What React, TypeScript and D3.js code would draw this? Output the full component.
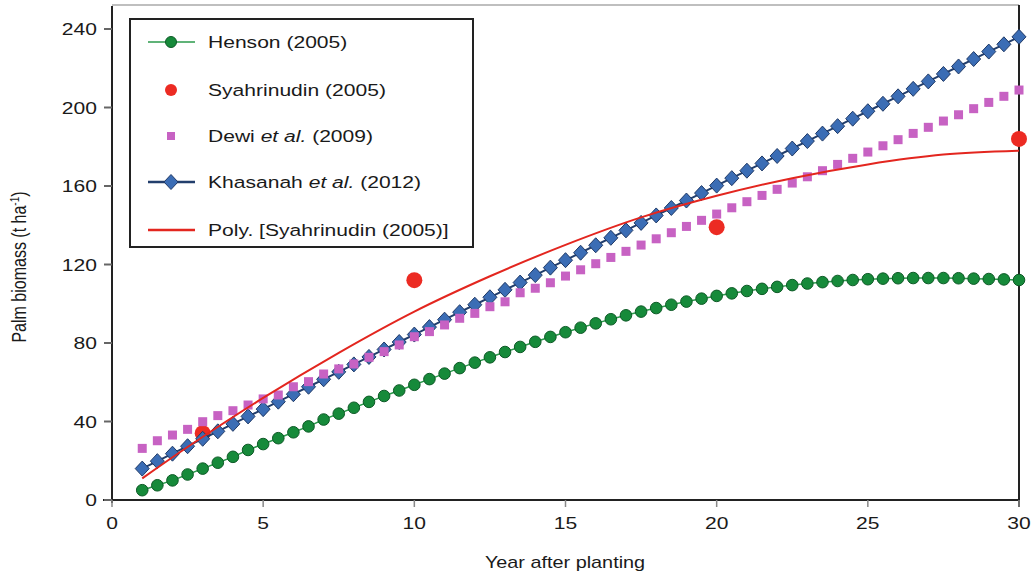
import React from 'react';
import * as d3 from 'd3';

// années (pas d'une demi-année)
const years = d3.range(1, 30.5, 0.5);

const henson = [
  5, 7.5, 10, 13, 16, 19, 22, 25.5, 28.5, 31.5,
  34.5, 37.5, 41, 44, 47, 50, 53, 55.8, 58.7, 61.6,
  64.4, 67.2, 70, 72.7, 75.4, 78, 80.6, 83.1, 85.5, 87.8,
  90, 92.1, 94.1, 96, 97.8, 99.5, 101.1, 102.6, 104, 105.3,
  106.5, 107.6, 108.6, 109.5, 110.3, 111, 111.6, 112.1, 112.5, 112.8,
  113, 113.1, 113.1, 113.1, 113, 112.8, 112.6, 112.4, 112.1,
];

const khasanah = [
  16, 19.8, 23.6, 27.4, 31.2, 35, 38.8, 42.6, 46.3, 50.1,
  53.9, 57.7, 61.5, 65.3, 69.1, 72.9, 76.7, 80.5, 84.3, 88.1,
  91.9, 95.7, 99.5, 103.3, 107.1, 110.8, 114.6, 118.4, 122.2, 126,
  129.8, 133.6, 137.4, 141.2, 145, 148.8, 152.6, 156.4, 160.2, 164,
  167.8, 171.5, 175.3, 179.1, 182.9, 186.7, 190.5, 194.3, 198.1, 201.9,
  205.7, 209.5, 213.3, 217.1, 220.9, 224.7, 228.5, 232.2, 236,
];

const dewi = [
  26.3, 30.2, 33.1, 36, 39.9, 43, 45.5, 48.4, 51.5, 53.5,
  57.7, 60.3, 64.2, 66.8, 69.3, 72.7, 75.6, 79, 83.2, 85.8,
  89.2, 92.6, 95.1, 98.5, 101, 105.6, 107.9, 110.7, 114.1, 117.3,
  120.4, 123.6, 126.7, 129.9, 133.1, 136.2, 139.4, 142.5, 145.7, 148.9,
  152, 155.2, 158.3, 161.5, 164.7, 167.8, 171, 174.1, 177.3, 180.5,
  183.6, 186.8, 189.9, 193.1, 196.3, 199.4, 202.6, 205.7, 208.9,
];

const syahYears = [3, 10, 20, 30];
const syahValues = [34, 112, 139, 184];

// courbe de tendance polynomiale
const polyYears = [1, 2.5, 5, 7.5, 10, 12.5, 15, 17.5, 20, 22.5, 25, 27.5, 30];
const polyValues = [11, 27, 52, 75, 96, 114, 130, 144, 155, 164, 171, 176, 178];

const yTicks = [0, 40, 80, 120, 160, 200, 240];
const xTicks = [0, 5, 10, 15, 20, 25, 30];

const FONT = 'Liberation Sans, Arial, Helvetica, sans-serif';
const SX = 1.24;

const STxt = ({ x, y, anchor = 'start', size = 17, children }: any) => (
  <text
    transform={`translate(${x},${y}) scale(${SX},1)`}
    textAnchor={anchor}
    fontSize={size}
    fill="#1a1a1a"
  >
    {children}
  </text>
);

const diamond = 'M0,-7.5L7,0L0,7.5L-7,0Z';

const App = () => {
  const width = 1034;
  const height = 578;

  const x = d3.scaleLinear().domain([0, 30]).range([112, 1019]);
  const y = d3.scaleLinear().domain([0, 240]).range([500, 29]);

  const lineOf = (xs: number[], vs: number[]) =>
    d3.line<number>().x((_, i) => x(xs[i])).y(d => y(d))(vs) || '';

  const polyPath =
    d3
      .line<number>()
      .x((_, i) => x(polyYears[i]))
      .y(d => y(d))
      .curve(d3.curveCatmullRom)(polyValues) || '';

  const legendItems = [
    { key: 'henson', cy: 42, label: <>Henson (2005)</> },
    { key: 'syah', cy: 90, label: <>Syahrinudin (2005)</> },
    { key: 'dewi', cy: 136, label: <>Dewi <tspan fontStyle="italic">et al.</tspan> (2009)</> },
    { key: 'khas', cy: 182, label: <>Khasanah <tspan fontStyle="italic">et al.</tspan> (2012)</> },
    { key: 'poly', cy: 230, label: <>Poly. [Syahrinudin (2005)]</> },
  ];

  return (
    <svg
      width={width}
      height={height}
      style={{ position: 'absolute', left: 0, top: 0, background: '#fff' }}
      fontFamily={FONT}
    >
      <rect width={width} height={height} fill="#fff" />

      {/* cadre */}
      <line x1={112} x2={1019} y1={5} y2={5} stroke="#aaa" strokeWidth={1.5} />
      <line x1={1019} x2={1019} y1={5} y2={507} stroke="#222" strokeWidth={2} />
      <line x1={112} x2={112} y1={6} y2={503} stroke="#222" strokeWidth={2} />
      <line x1={103} x2={1019} y1={500} y2={500} stroke="#222" strokeWidth={2} />

      {/* axe Y */}
      {yTicks.map(t => (
        <g key={'y' + t}>
          <line x1={104} x2={112} y1={y(t)} y2={y(t)} stroke="#666" strokeWidth={2} />
          <STxt x={97} y={y(t) + 6} anchor="end">{t}</STxt>
        </g>
      ))}

      {/* axe X */}
      {xTicks.map(t => (
        <g key={'x' + t}>
          <line x1={x(t)} x2={x(t)} y1={500} y2={507} stroke="#888" strokeWidth={1.5} />
          <STxt x={x(t)} y={529} anchor="middle">{t}</STxt>
        </g>
      ))}

      <STxt x={565} y={568} anchor="middle" size={16}>Year after planting</STxt>
      <text
        transform={`translate(26,267) rotate(-90) scale(1,${SX})`}
        textAnchor="middle"
        fontSize={16}
        fill="#1a1a1a"
      >
        Palm biomass (t ha<tspan fontSize={10} dy={-6}>-1</tspan><tspan dy={6}>)</tspan>
      </text>

      {/* Henson */}
      <path d={lineOf(years, henson)} fill="none" stroke="#2b9a4b" strokeWidth={1.5} />
      {henson.map((v, i) => (
        <circle key={'h' + i} cx={x(years[i])} cy={y(v)} r={5.8} fill="#168a3a" stroke="#0e5a27" strokeWidth={1} />
      ))}

      {/* Syahrinudin */}
      {syahValues.map((v, i) => (
        <circle key={'s' + i} cx={x(syahYears[i])} cy={y(v)} r={8} fill="#ec2b23" />
      ))}

      {/* Khasanah */}
      <path d={lineOf(years, khasanah)} fill="none" stroke="#223e6c" strokeWidth={2} />
      {khasanah.map((v, i) => (
        <path
          key={'k' + i}
          d={diamond}
          transform={`translate(${x(years[i])},${y(v)})`}
          fill="#3b6db5"
          stroke="#1f3966"
          strokeWidth={1}
        />
      ))}

      {/* Dewi */}
      {dewi.map((v, i) => (
        <rect key={'d' + i} x={x(years[i]) - 4.5} y={y(v) - 4.5} width={9} height={9} fill="#c762c3" />
      ))}

      {/* tendance */}
      <path d={polyPath} fill="none" stroke="#e3261f" strokeWidth={2} />

      {/* légende */}
      <rect x={130} y={19} width={343} height={228} fill="#fff" stroke="#222" strokeWidth={2} />
      {legendItems.map(item => (
        <g key={item.key}>
          {item.key === 'henson' && (
            <>
              <line x1={148} x2={195} y1={item.cy} y2={item.cy} stroke="#2b9a4b" strokeWidth={1.5} />
              <circle cx={171} cy={item.cy} r={5.5} fill="#168a3a" stroke="#0e5a27" />
            </>
          )}
          {item.key === 'syah' && <circle cx={171} cy={item.cy} r={6} fill="#ec2b23" />}
          {item.key === 'dewi' && <rect x={167} y={item.cy - 4} width={8} height={8} fill="#c762c3" />}
          {item.key === 'khas' && (
            <>
              <line x1={148} x2={195} y1={item.cy} y2={item.cy} stroke="#223e6c" strokeWidth={2.5} />
              <path d={diamond} transform={`translate(171,${item.cy})`} fill="#3b6db5" stroke="#1f3966" />
            </>
          )}
          {item.key === 'poly' && (
            <line x1={148} x2={195} y1={item.cy} y2={item.cy} stroke="#e3261f" strokeWidth={2.5} />
          )}
          <STxt x={208} y={item.cy + 6}>{item.label}</STxt>
        </g>
      ))}
    </svg>
  );
};

export default App;
